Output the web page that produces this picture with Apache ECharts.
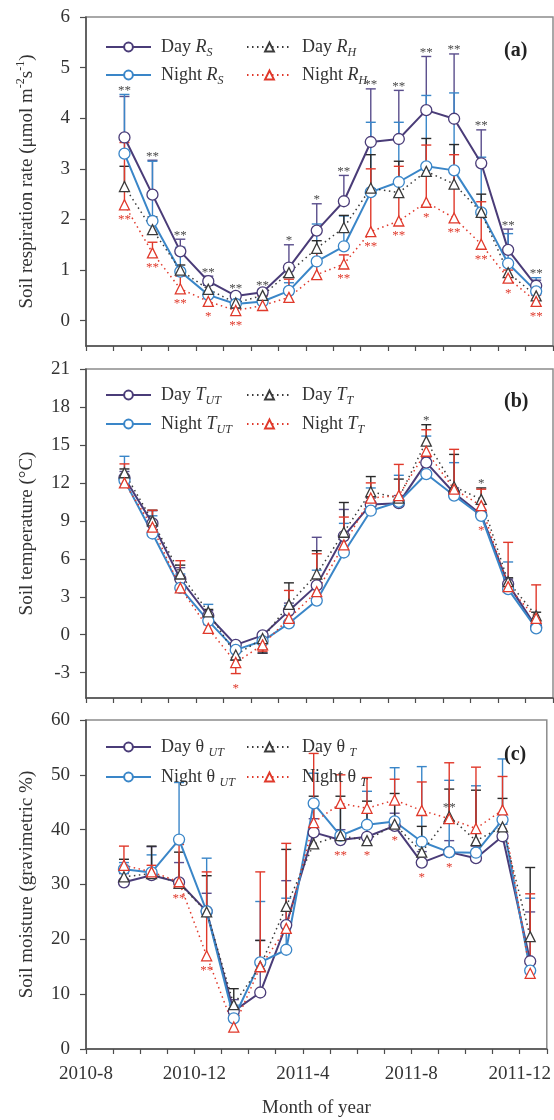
<!DOCTYPE html>
<html><head><meta charset="utf-8">
<script src="https://cdn.jsdelivr.net/npm/echarts@6/dist/echarts.min.js"></script>
<style>html,body{margin:0;padding:0;background:#fff}#c{width:554px;height:1120px}</style>
</head><body><div id="c"></div>
<script>
// ---------- data ----------
const sampleDates = ['2010-09-13','2010-10-14','2010-11-14','2010-12-15','2011-01-15','2011-02-13','2011-03-13','2011-04-13',
  '2011-05-13','2011-06-12','2011-07-13','2011-08-13','2011-09-13','2011-10-13','2011-11-12','2011-12-13'];
const xTickLabels = ['2010-8','2010-12','2011-4','2011-8','2011-12'];

// (a) soil respiration
const dayRS    = [3.62,2.49,1.37,0.78,0.49,0.56,1.05,1.78,2.36,3.53,3.59,4.16,3.99,3.11,1.40,0.69];
const dayRS_sd = [0.81,0.68,0.24,0.10,0.06,0.06,0.45,0.53,0.51,1.05,0.96,1.06,1.28,0.66,0.41,0.11];
const nightRS    = [3.30,1.97,0.97,0.51,0.33,0.38,0.59,1.17,1.47,2.54,2.74,3.05,2.97,2.14,1.13,0.58];
const nightRS_sd = [1.17,1.18,0.48,0.19,0.09,0.12,0.16,0.74,0.60,1.38,1.18,1.40,1.53,1.09,0.59,0.27];
const dayRH    = [2.65,1.80,1.00,0.62,0.35,0.50,0.95,1.43,1.84,2.62,2.53,2.95,2.70,2.14,0.95,0.49];
const dayRH_sd = [0.40,0.25,0.10,0.08,0.05,0.05,0.05,0.15,0.24,0.66,0.62,0.65,0.78,0.36,0.15,0.06];
const nightRH    = [2.29,1.34,0.63,0.38,0.20,0.30,0.46,0.91,1.12,1.76,1.97,2.34,2.03,1.51,0.84,0.38];
const nightRH_sd = [1.23,0.21,0.25,0.07,0.05,0.18,0.36,0.44,0.18,1.24,1.08,1.13,1.25,0.84,0.16,0.12];
const sigA_up   = ['**','**','**','**','**','**','*','*','**','**','**','**','**','**','**','**'];
const sigA_down = ['**','**','**','*','**','','','','**','**','**','*','**','**','*','**'];

// (b) soil temperature
const dayTUT    = [12.4,8.8,4.4,1.5,-0.8,-0.05,1.9,3.9,7.8,10.3,10.4,13.6,11.2,9.5,4.0,0.6];
const dayTUT_sd = [0.5,1.0,0.9,0.4,0.3,1.4,0.6,3.8,2.1,0.5,0.6,0.4,0.4,0.4,0.4,0.3];
const nightTUT    = [12.2,8.0,3.7,1.1,-1.2,-0.5,0.9,2.7,6.5,9.8,10.5,12.7,11.0,9.4,3.6,0.5];
const nightTUT_sd = [1.9,1.4,1.1,1.3,0.6,0.6,1.4,2.4,2.3,1.8,2.1,3.0,2.6,0.9,2.15,0.4];
const dayTT    = [12.8,9.0,4.8,1.8,-1.6,-0.3,2.4,4.8,8.1,11.3,10.8,15.3,11.7,10.7,4.2,1.5];
const dayTT_sd = [0.3,0.84,0.7,0.2,0.4,1.15,1.7,1.84,2.35,1.2,1.5,1.3,2.55,0.9,0.3,0.28];
const nightTT    = [12.0,8.5,3.7,0.5,-2.2,-0.8,1.3,3.4,7.1,10.8,11.0,14.5,11.5,10.2,3.8,1.3];
const nightTT_sd = [1.5,1.34,2.15,0.3,0.87,0.5,2.2,3.0,2.2,1.2,2.46,1.7,3.15,1.3,3.5,2.64];
const sigB_up   = ['','','','','','','','','','','','*','','*','',''];
const sigB_down = ['','','','','*','','','','','','','','','*','',''];

// (c) soil moisture
const dayMUT    = [30.4,31.7,30.4,25.1,6.9,10.3,22.6,39.5,38.1,38.7,40.7,34.0,35.9,34.8,38.8,16.0];
const dayMUT_sd = [1.6,5.2,3.6,3.3,2.1,9.5,8.1,2.5,1.9,2.3,2.3,2.0,2.1,2.2,2.2,9.0];
const nightMUT    = [32.8,32.2,38.2,25.1,5.6,15.8,18.1,44.8,38.9,40.9,41.5,37.8,35.9,35.8,41.8,14.3];
const nightMUT_sd = [1.2,3.2,10.4,9.7,2.4,11.1,9.4,5.5,5.2,6.1,9.8,13.7,13.1,12.2,11.1,13.2];
const dayMT    = [31.4,32.0,30.2,25.0,8.1,15.1,26.0,37.4,38.9,38.0,41.0,35.9,42.4,38.0,40.5,20.5];
const dayMT_sd = [3.2,5.0,5.7,6.6,2.9,4.7,10.4,8.7,7.2,7.2,5.6,4.7,5.0,9.2,5.2,12.6];
const nightMT    = [33.5,32.3,30.5,17.0,4.0,15.0,22.0,41.3,44.8,43.9,45.4,43.5,42.0,40.2,43.6,13.8];
const nightMT_sd = [3.5,1.2,6.8,15.3,2.0,17.3,15.5,12.6,5.2,5.6,3.8,5.2,10.2,11.2,6.1,14.5];
const sigC_up   = ['','','','','','','','','','','','','**','','',''];
const sigC_down = ['','','**','**','','','','','**','*','*','*','*','','',''];

// ---------- helpers ----------
const FONT = '"Liberation Serif","Times New Roman",serif';
function monthPos(s){
  const [y,m,d] = s.split('-').map(Number);
  const dim = new Date(y, m, 0).getDate();
  return (y-2010)*12 + (m-8) + (d-1)/dim;
}
const xs = sampleDates.map(monthPos);

const KIND = {
  dayU:   {color:'#4a3c78', err:'#5a4e8c', symbol:'circle',   dash:'solid',  width:2,   size:11},
  nightU: {color:'#3a86c8', err:'#3a86c8', symbol:'circle',   dash:'solid',  width:2,   size:11},
  dayT:   {color:'#3a3a3a', err:'#2a2a2a', symbol:'triangle', dash:[1.5,3.5], width:1.5, size:10},
  nightT: {color:'#e0392b', err:'#e0392b', symbol:'triangle', dash:[1.5,3.5], width:1.5, size:10}
};

const panels = [
  {top:17, yMin:-0.5, yMax:6, yTicks:[0,1,2,3,4,5,6], tag:'(a)', tagTop:41, legendTop:35, legendGap:4,
   yName:'Soil respiration rate (μmol m{sup|-2}s{sup|-1})',
   lines:[
     {name:'Day RS',   text:'Day {it|R}{sub|S}',   v:dayRS,   sd:dayRS_sd,   kind:'dayU'},
     {name:'Night RS', text:'Night {it|R}{sub|S}', v:nightRS, sd:nightRS_sd, kind:'nightU'},
     {name:'Day RH',   text:'Day {it|R}{sub|H}',   v:dayRH,   sd:dayRH_sd,   kind:'dayT'},
     {name:'Night RH', text:'Night {it|R}{sub|H}', v:nightRH, sd:nightRH_sd, kind:'nightT'}],
   sigUp:sigA_up, sigDown:sigA_down, upAnchor:-1},
  {top:369, yMin:-5, yMax:21, yTicks:[-3,0,3,6,9,12,15,18,21], tag:'(b)', tagTop:392, legendTop:383, legendGap:5,
   yName:'Soil temperature (°C)',
   lines:[
     {name:'Day TUT',   text:'Day {it|T}{sub|UT}',   v:dayTUT,   sd:dayTUT_sd,   kind:'dayU'},
     {name:'Night TUT', text:'Night {it|T}{sub|UT}', v:nightTUT, sd:nightTUT_sd, kind:'nightU'},
     {name:'Day TT',    text:'Day {it|T}{sub|T}',    v:dayTT,    sd:dayTT_sd,    kind:'dayT'},
     {name:'Night TT',  text:'Night {it|T}{sub|T}',  v:nightTT,  sd:nightTT_sd,  kind:'nightT'}],
   sigUp:sigB_up, sigDown:sigB_down, upAnchor:-1},
  {top:720, yMin:0, yMax:60, yTicks:[0,10,20,30,40,50,60], tag:'(c)', tagTop:745, legendTop:735, legendGap:6,
   yName:'Soil moisture (gravimetric %)',
   lines:[
     {name:'Day θUT',   text:'Day θ {sub|UT}',   v:dayMUT,   sd:dayMUT_sd,   kind:'dayU'},
     {name:'Night θUT', text:'Night θ {sub|UT}', v:nightMUT, sd:nightMUT_sd, kind:'nightU'},
     {name:'Day θT',    text:'Day θ {sub|T}',    v:dayMT,    sd:dayMT_sd,    kind:'dayT'},
     {name:'Night θT',  text:'Night θ {sub|T}',  v:nightMT,  sd:nightMT_sd,  kind:'nightT'}],
   sigUp:sigC_up, sigDown:sigC_down, upAnchor:2}
];

const legendText = {};
panels.forEach(p => p.lines.forEach(l => legendText[l.name] = l.text));

function errEnd(v, sd){ return v >= 0 ? v + sd : v - sd; }

const grid = [], xAxis = [], yAxis = [], series = [], legend = [], title = [];
const axisColor = '#4d4d4d';
const richLegend = {
  it:  {fontFamily:FONT, fontSize:18, fontStyle:'italic', color:'#333', lineHeight:24},
  sub: {fontFamily:FONT, fontSize:12, fontStyle:'italic', color:'#333', verticalAlign:'bottom', lineHeight:12}
};

panels.forEach((p, gi) => {
  grid.push({left:86, width:467, top:p.top, height:329, show:true, borderColor:'#8c8c8c', borderWidth:1.5, backgroundColor:'transparent'});
  const last = gi === panels.length - 1;
  xAxis.push({
    gridIndex:gi, type:'value', min:0, max:17, interval:1,
    axisLine:{show:true, onZero:false, lineStyle:{color:axisColor, width:1.5}},
    axisTick:{show:true, inside:false, length:5, lineStyle:{color:axisColor, width:1.2}},
    axisLabel:{show:last, margin:16, fontFamily:FONT, fontSize:19, color:'#333',
      customValues:[0,4,8,12,16], formatter: v => xTickLabels[Math.round(v/4)] || ''},
    splitLine:{show:false},
    name: last ? 'Month of year' : '', nameLocation:'middle', nameGap:50,
    nameTextStyle:{fontFamily:FONT, fontSize:19, color:'#333'}
  });
  yAxis.push({
    gridIndex:gi, type:'value', min:p.yMin, max:p.yMax,
    axisLine:{show:true, onZero:false, lineStyle:{color:axisColor, width:1.5}},
    axisTick:{show:true, inside:false, length:6, customValues:p.yTicks, lineStyle:{color:axisColor, width:1.2}},
    axisLabel:{margin:16, fontFamily:FONT, fontSize:19, color:'#333', customValues:p.yTicks},
    splitLine:{show:false},
    name:p.yName, nameLocation:'middle', nameGap:47, nameRotate:90,
    nameTextStyle:{fontFamily:FONT, fontSize:19, color:'#333', lineHeight:24,
      rich:{sup:{fontFamily:FONT, fontSize:12, color:'#333', verticalAlign:'top', lineHeight:12}}}
  });
  title.push({text:p.tag, left:504, top:p.tagTop, padding:0,
    textStyle:{fontFamily:FONT, fontSize:20, fontWeight:'bold', color:'#222'}});

  const cols = [[p.lines[0].name, p.lines[1].name], [p.lines[2].name, p.lines[3].name]];
  cols.forEach((names, ci) => {
    legend.push({
      data:names, orient:'vertical', left: ci === 0 ? 105 : 246, top:p.legendTop, padding:0,
      itemWidth:45, itemHeight:11, itemGap:p.legendGap, selectedMode:false,
      formatter: n => legendText[n],
      textStyle:{fontFamily:FONT, fontSize:18, color:'#333', lineHeight:24, padding:[0,0,0,5], rich:richLegend}
    });
  });

  // error bars (drawn beneath markers)
  p.lines.forEach(l => {
    const k = KIND[l.kind];
    series.push({
      type:'custom', xAxisIndex:gi, yAxisIndex:gi, z:2, silent:true,
      data: l.v.map((v,i) => [xs[i], v, errEnd(v, l.sd[i])]),
      encode:{x:0, y:[1,2]},
      renderItem:(params, api) => {
        const a = api.coord([api.value(0), api.value(1)]);
        const b = api.coord([api.value(0), api.value(2)]);
        const st = {stroke:k.err, lineWidth:1.4};
        return {type:'group', children:[
          {type:'line', shape:{x1:a[0], y1:a[1], x2:b[0], y2:b[1]}, style:st},
          {type:'line', shape:{x1:b[0]-5, y1:b[1], x2:b[0]+5, y2:b[1]}, style:st}
        ]};
      }
    });
  });
  // lines
  p.lines.forEach(l => {
    const k = KIND[l.kind];
    series.push({
      name:l.name, type:'line', xAxisIndex:gi, yAxisIndex:gi, z:3,
      data: l.v.map((v,i) => [xs[i], v]),
      symbol:k.symbol, symbolSize:k.size, showAllSymbol:true,
      lineStyle:{color:k.color, width:k.width, type:k.dash},
      itemStyle:{color:'#fff', borderColor:k.color, borderWidth:1.3},
      emphasis:{disabled:true}, animation:false
    });
  });
  // significance marks
  const marks = [];
  for (let i = 0; i < xs.length; i++) {
    const vals = [], ends = [];
    p.lines.forEach(l => { vals.push(l.v[i]); ends.push(errEnd(l.v[i], l.sd[i])); });
    if (p.sigUp[i]) {
      const anchor = p.upAnchor < 0 ? Math.max(...vals, ...ends) : p.lines[p.upAnchor].v[i];
      marks.push({x:xs[i], y:anchor, text:p.sigUp[i], up:true, off: p.upAnchor < 0 ? -7 : -12});
    }
    if (p.sigDown[i]) {
      const anchor = Math.min(...vals, ...ends);
      marks.push({x:xs[i], y:anchor, text:p.sigDown[i], up:false, off:12});
    }
  }
  series.push({
    type:'custom', xAxisIndex:gi, yAxisIndex:gi, z:4, silent:true,
    data: marks.map(m => [m.x, m.y]),
    encode:{x:0, y:1},
    renderItem:(params, api) => {
      const m = marks[params.dataIndex];
      const c = api.coord([api.value(0), api.value(1)]);
      return {type:'text', x:c[0], y:c[1] + m.off + 3,
        style:{text:m.text, fill: m.up ? '#4a4a4a' : '#e0392b', fontFamily:FONT, fontSize:13,
          align:'center', verticalAlign:'middle'}};
    }
  });
});

const chart = echarts.init(document.getElementById('c'), null, {renderer:'canvas'});
chart.setOption({animation:false, backgroundColor:'#fff', grid, xAxis, yAxis, series, legend, title});
</script>
</body></html>
